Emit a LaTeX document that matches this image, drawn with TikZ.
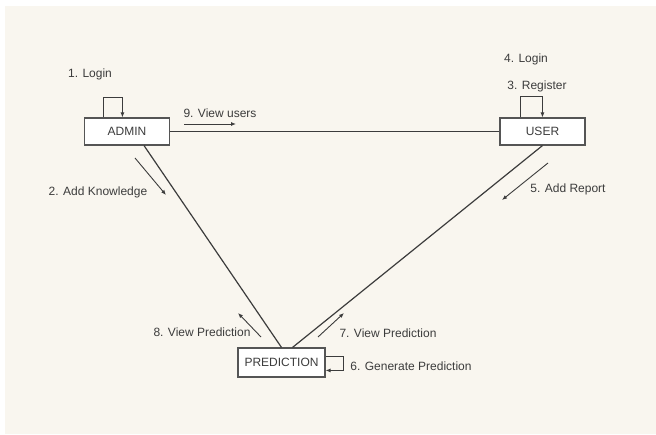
\documentclass[tikz,border=0pt]{standalone}
\usepackage{fontspec}
\setmainfont{Liberation Sans}
\usepackage{tikz}
\usetikzlibrary{arrows.meta,positioning,calc}
\usepackage{xcolor}
\definecolor{paper}{RGB}{249,246,239}
\definecolor{inkgrey}{RGB}{60,60,60}
\definecolor{boxgrey}{RGB}{85,85,85}
\tikzset{
    objbox/.style={draw=boxgrey, line width=1.1pt, fill=white,
                   minimum width=#1, minimum height=27pt, inner sep=0pt,
                   font=\fontsize{12}{14}\selectfont, text=inkgrey},
    msg/.style={font=\fontsize{12}{14}\selectfont, text=inkgrey, inner sep=0pt},
}

\begin{document}
\begin{tikzpicture}[
    x=1pt, y=1pt,
    link/.style={inkgrey, line width=1.2pt},
    arr/.style={-{Latex[length=5pt,width=4pt]}, inkgrey, line width=0.9pt},
]
    \useasboundingbox (0,0) rectangle (656,434);
    \fill[paper] (5,0) rectangle (656,428);

    \node[objbox=85pt] (admin) at (127,302.5) {ADMIN};
    \node[objbox=85pt] (user) at (542.5,302.5) {USER};
    \node[objbox=87pt, minimum height=29pt] (prediction) at (281.5,71.5) {PREDICTION};

    % associations
    \draw[link] (admin.east) -- (user.west);
    \draw[link] ([xshift=17pt]admin.south) -- (prediction.north);
    \draw[link] (user.south) -- ([xshift=11pt]prediction.north);

    % self messages
    \draw[arr] ([xshift=19.5pt]admin.north west) -- ++(0,20) -| ([xshift=38.5pt]admin.north west);
    \draw[arr] ([xshift=21pt]user.north west) -- ++(0,21) -| ([xshift=43pt]user.north west);
    \draw[arr] ([yshift=-9pt]prediction.north east) -- ++(18,0) |- ([yshift=-23pt]prediction.north east);

    % message arrows
    \coordinate (m9a) at (184,310);  \coordinate (m9b) at (236,310);
    \coordinate (m2a) at (135,276);  \coordinate (m2b) at (166,239);
    \coordinate (m5a) at (548,271);  \coordinate (m5b) at (502,234);
    \coordinate (m8a) at (261,97);   \coordinate (m8b) at (238,121);
    \coordinate (m7a) at (318,97);   \coordinate (m7b) at (344,121);
    \draw[arr] (m9a) -- (m9b);
    \draw[arr] (m2a) -- (m2b);
    \draw[arr] (m5a) -- (m5b);
    \draw[arr] (m8a) -- (m8b);
    \draw[arr] (m7a) -- (m7b);

    % labels
    \node[msg] (login1) at (90,360) {1. Login};
    \node[msg] (viewusers) at (220,321) {9. View users};
    \node[msg] (addknow) at (98,242) {2. Add Knowledge};
    \node[msg] (login4) at (526,375) {4. Login};
    \node[msg] (register) at (537,348) {3. Register};
    \node[msg] (addreport) at (568,245) {5. Add Report};
    \node[msg] (viewpred8) at (202,102) {8. View Prediction};
    \node[msg] (viewpred7) at (388,101) {7. View Prediction};
    \node[msg] (genpred) at (411,68) {6. Generate Prediction};
\end{tikzpicture}
\end{document}
